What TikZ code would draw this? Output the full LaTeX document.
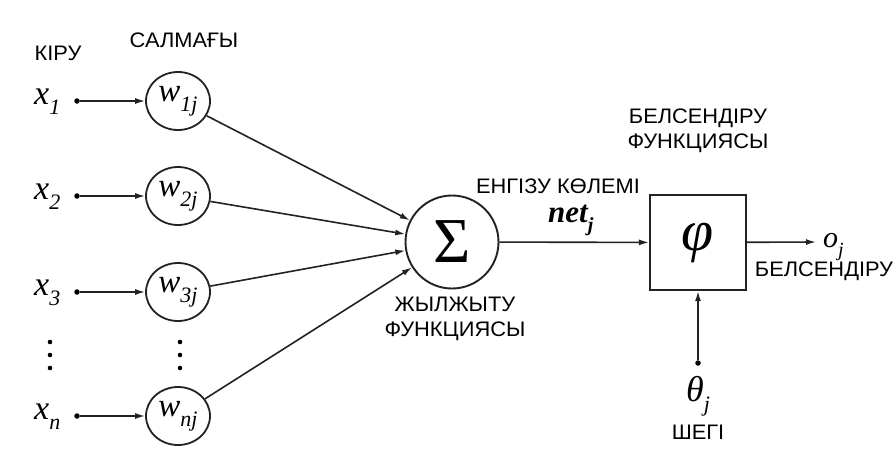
\documentclass[tikz,border=0pt]{standalone}
\usepackage{fontspec}
\setmainfont{Liberation Sans}
\newfontfamily\labfont[FakeStretch=1.04]{Liberation Sans}
\newfontfamily\mfont{Liberation Serif}
\usetikzlibrary{arrows.meta,shapes.geometric}
\newcommand\mlab[4]{{\mfont\itshape\fontsize{#1}{#1}\selectfont #2\raisebox{-0.3em}{\fontsize{#3}{#3}\selectfont #4}}}
\definecolor{lc}{HTML}{222222}
\tikzset{
  lab/.style={font=\labfont\fontsize{21pt}{25pt}\selectfont, align=center, inner sep=0pt, text=black},
  mtxt/.style={inner sep=0pt, text=black},
  wnode/.style={draw=lc, line width=1.8pt, ellipse, minimum width=64pt, minimum height=58pt, inner sep=0pt},
  sumnode/.style={draw=lc, line width=1.9pt, circle, minimum size=93pt, inner sep=0pt},
  boxnode/.style={draw=lc, line width=2.1pt, rectangle, minimum width=96pt, minimum height=95pt, inner sep=0pt},
  dotnode/.style={fill=black, circle, minimum size=5.5pt, inner sep=0pt},
  conn/.style={draw=lc, line width=1.6pt, -{Latex[length=10pt,width=6pt]}},
}
\begin{document}
\begin{tikzpicture}[x=1pt,y=-1pt]
\useasboundingbox[fill=white] (0,0) rectangle (896,466);

% headers
\node[lab] (kiru) at (58,53) {КІРУ};
\node[lab] (salm) at (184,40) {САЛМАҒЫ};

% inputs
\node[mtxt, anchor=base west] (x1) at (34,104) {\mlab{34pt}{x}{22pt}{1}};
\node[mtxt, anchor=base west] (x2) at (34,199) {\mlab{34pt}{x}{22pt}{2}};
\node[mtxt, anchor=base west] (x3) at (34,295) {\mlab{34pt}{x}{22pt}{3}};
\node[mtxt, anchor=base west] (xn) at (34,419) {\mlab{34pt}{x}{22pt}{n}};

\node[dotnode] (d1) at (77,101) {};
\node[dotnode] (d2) at (77,196) {};
\node[dotnode] (d3) at (77,292) {};
\node[dotnode] (dn) at (77,416) {};

\node[wnode] (w1) at (178,101) {\mlab{33pt}{w}{22pt}{1j}};
\node[wnode] (w2) at (178,196) {\mlab{33pt}{w}{22pt}{2j}};
\node[wnode] (w3) at (178,292) {\mlab{33pt}{w}{22pt}{3j}};
\node[wnode] (wn) at (178,416) {\mlab{33pt}{w}{22pt}{nj}};

% vertical ellipses
\foreach \yy in {342,355,368} {
  \fill (50,\yy) circle (2.3pt);
  \fill (180,\yy) circle (2.3pt);
}

\draw[conn] (d1) -- (w1);
\draw[conn] (d2) -- (w2);
\draw[conn] (d3) -- (w3);
\draw[conn] (dn) -- (wn);

% summation
\node[sumnode] (S) at (452,242) {\mfont\fontsize{64pt}{64pt}\selectfont Σ};
\draw[conn] (w1) -- (S);
\draw[conn] (w2) -- (S);
\draw[conn] (w3) -- (S);
\draw[conn] (wn) -- (S);

\node[lab] (zhyl) at (455,319) {ЖЫЛЖЫТУ\\ФУНКЦИЯСЫ};

% activation
\node[boxnode] (phi) at (698,242.5) {\mfont\itshape\fontsize{58pt}{58pt}\selectfont φ};
\draw[conn] (S) -- (phi);
\node[lab] (engizu) at (558,186) {ЕНГІЗУ КӨЛЕМІ};
\node[mtxt, anchor=base west] (net) at (548,222) {{\mfont\bfseries\itshape\fontsize{31pt}{31pt}\selectfont net\raisebox{-0.3em}{\fontsize{20pt}{20pt}\selectfont j}}};

\node[lab] (belfunc) at (698,131) {БЕЛСЕНДІРУ\\ФУНКЦИЯСЫ};

% output
\coordinate (oend) at (816,242);
\draw[conn] (phi) -- (oend);
\node[mtxt, anchor=base west] (oj) at (823,247) {\mlab{30pt}{o}{20pt}{j}};
\node[lab] (bel) at (824,271) {БЕЛСЕНДІРУ};

% bias
\node[dotnode] (db) at (698,363) {};
\draw[conn] (db) -- (phi);
\node[mtxt, anchor=base west] (theta) at (686,401) {\mlab{36pt}{θ}{22pt}{j}};
\node[lab] (shegi) at (698,432) {ШЕГІ};
\end{tikzpicture}
\end{document}
